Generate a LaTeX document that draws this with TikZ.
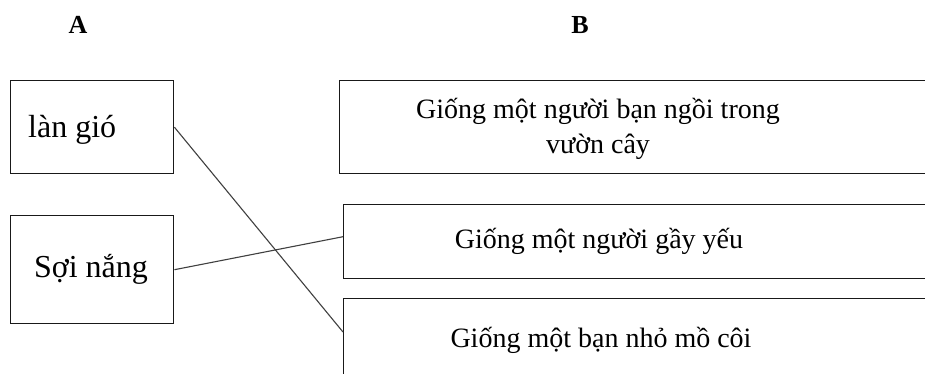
\documentclass[tikz,border=0pt]{standalone}
\usepackage{fontspec}
\setmainfont{Liberation Serif}
\begin{document}
\begin{tikzpicture}[x=1pt,y=-1pt,
  box/.style={draw=black!90,line width=1.4pt,inner sep=0pt,anchor=north west},
  ltext/.style={font=\rmfamily\fontsize{32}{38}\selectfont,inner sep=0pt},
  rtext/.style={font=\rmfamily\fontsize{28}{35}\selectfont,inner sep=0pt,align=center},
  head/.style={font=\rmfamily\fontsize{26}{30}\selectfont\bfseries,inner sep=0pt,anchor=base},
  link/.style={line width=1.1pt,draw=black!75}]
\clip (0,0) rectangle (925,373);
\fill[white] (0,0) rectangle (925,373);
% headers
\node[head] (hA) at (78,33) {A};
\node[head] (hB) at (580,33) {B};
% left boxes
\node[box,minimum width=163pt,minimum height=93pt] (L1) at (10,80) {};
\node[box,minimum width=163pt,minimum height=108pt] (L2) at (10,215) {};
\node[ltext,anchor=base west] (t1) at (28,137) {làn gió};
\node[ltext,anchor=base] (t2) at (91,277) {Sợi nắng};
% right boxes
\node[box,minimum width=620pt,minimum height=93pt] (R1) at (339,80) {};
\node[box,minimum width=620pt,minimum height=74pt] (R2) at (343,204) {};
\node[box,minimum width=620pt,minimum height=110pt] (R3) at (343,298) {};
\node[rtext,anchor=center] (r1) at (598,129) {Giống một người bạn ngồi trong\\vườn cây};
\node[rtext,anchor=base] (r2) at (599,248) {Giống một người gầy yếu};
\node[rtext,anchor=base] (r3) at (601,347) {Giống một bạn nhỏ mồ côi};
% connectors
\draw[link] (L1.east) -- ([yshift=-34pt]R3.north west);
\draw[link] (L2.east) -- ([yshift=5pt]R2.west);
\end{tikzpicture}
\end{document}
